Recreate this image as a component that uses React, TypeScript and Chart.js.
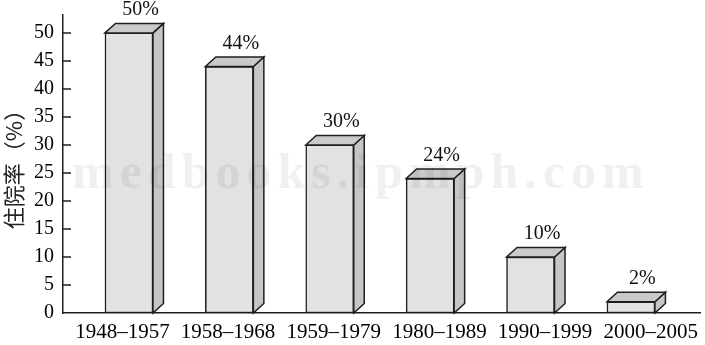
import React, { useEffect, useRef } from 'react';
import { Chart, registerables } from 'chart.js';

Chart.register(...registerables);

const categories = ['1948–1957', '1958–1968', '1959–1979', '1980–1989', '1990–1999', '2000–2005'];
const rates = [50, 44, 30, 24, 10, 2];
const valueLabels = ['50%', '44%', '30%', '24%', '10%', '2%'];
const yTicks = [0, 5, 10, 15, 20, 25, 30, 35, 40, 45, 50];
const yTitle = '住院率（%）';
const watermark = 'medbooks.ipmph.com';

const SERIF = '"Liberation Serif", "Times New Roman", serif';
const DX = 10.5;
const DY = 9.5;
const EDGE = '#1e1e1e';

const bar3d = {
  id: 'bar3d',
  afterDatasetsDraw(chart: any) {
    const ctx = chart.ctx;
    const meta = chart.getDatasetMeta(0);
    ctx.save();
    ctx.lineWidth = 1.5;
    ctx.strokeStyle = EDGE;
    ctx.lineJoin = 'miter';
    meta.data.forEach((el: any, i: number) => {
      const { x, y, base, width } = el.getProps(['x', 'y', 'base', 'width'], true);
      const l = x - width / 2;
      const r = x + width / 2;
      ctx.beginPath();
      ctx.moveTo(r, y);
      ctx.lineTo(r + DX, y - DY);
      ctx.lineTo(r + DX, base - DY);
      ctx.lineTo(r, base);
      ctx.closePath();
      ctx.fillStyle = '#c6c6c6';
      ctx.fill();
      ctx.stroke();
      ctx.beginPath();
      ctx.moveTo(l, y);
      ctx.lineTo(l + DX, y - DY);
      ctx.lineTo(r + DX, y - DY);
      ctx.lineTo(r, y);
      ctx.closePath();
      ctx.fillStyle = '#cacaca';
      ctx.fill();
      ctx.stroke();
      ctx.fillStyle = '#111';
      ctx.font = `20px ${SERIF}`;
      ctx.textAlign = 'center';
      ctx.textBaseline = 'alphabetic';
      ctx.fillText(valueLabels[i], x + DX + 1, y - DY - 8);
    });
    const ys = chart.scales.y;
    const left = chart.chartArea.left;
    ctx.beginPath();
    ys.ticks.forEach((t: any) => {
      if (t.value === 0) return;
      const py = ys.getPixelForValue(t.value);
      ctx.moveTo(left, py);
      ctx.lineTo(left + 8, py);
    });
    ctx.stroke();
    ctx.restore();
  },
  afterDraw(chart: any) {
    const ctx = chart.ctx;
    const a = chart.chartArea;
    ctx.save();
    ctx.font = `bold 50px ${SERIF}`;
    try { (ctx as any).letterSpacing = '6px'; } catch (e) {}
    ctx.fillStyle = 'rgba(0,0,0,0.06)';
    ctx.textAlign = 'left';
    ctx.textBaseline = 'alphabetic';
    ctx.fillText(watermark, a.left + 9, a.top + (a.bottom - a.top) * 0.58);
    ctx.restore();
  },
};

export default function App() {
  const ref = useRef<HTMLCanvasElement>(null);
  useEffect(() => {
    if (!ref.current) return;
    const chart = new Chart(ref.current, {
      type: 'bar',
      data: {
        datasets: [
          {
            data: rates.map((v, i) => ({ x: i, y: v })),
            backgroundColor: '#e2e2e2',
            borderColor: EDGE,
            borderWidth: 1.5,
            borderSkipped: false,
            barThickness: 48,
            xAxisID: 'x',
            yAxisID: 'y',
          } as any,
        ],
      },
      options: {
        animation: false,
        responsive: false,
        maintainAspectRatio: false,
        layout: { padding: { top: 15, right: 5, left: 0, bottom: 0 } },
        plugins: { legend: { display: false }, tooltip: { enabled: false } },
        scales: {
          x: { type: 'linear', display: false, offset: false, bounds: 'data', min: -0.657, max: 5.688 },
          xl: {
            type: 'linear',
            position: 'bottom',
            offset: false,
            bounds: 'data',
            min: -0.562,
            max: 5.466,
            afterBuildTicks: (s: any) => {
              s.ticks = categories.map((_, i) => ({ value: i }));
            },
            afterFit: (s: any) => {
              s.height = 32;
              s.paddingLeft = 0;
              s.paddingRight = 0;
            },
            grid: { display: false, drawTicks: false, offset: false },
            border: { display: true, color: EDGE, width: 1.5 },
            ticks: {
              callback: (v: any) => categories[v],
              font: { family: SERIF, size: 21 },
              color: '#000',
              padding: 7,
              maxRotation: 0,
              autoSkip: false,
            },
          },
          y: {
            min: 0,
            max: 53.2,
            afterBuildTicks: (s: any) => {
              s.ticks = yTicks.map((v) => ({ value: v }));
            },
            afterFit: (s: any) => {
              s.width = 63;
              s.paddingTop = 0;
              s.paddingBottom = 0;
            },
            grid: { display: false, drawTicks: false },
            border: { display: true, color: EDGE, width: 1.5 },
            ticks: { font: { family: SERIF, size: 20 }, color: '#000', padding: 9 },
            title: {
              display: true,
              text: yTitle,
              font: { family: '"Noto Sans CJK SC"', size: 22 },
              color: '#222',
              padding: { top: 0, bottom: 0 },
            },
          },
        } as any,
      },
      plugins: [bar3d],
    });
    return () => chart.destroy();
  }, []);
  return (
    <div style={{ position: 'fixed', left: 0, top: 0, width: 705, height: 345, background: '#fff' }}>
      <canvas ref={ref} width={705} height={345} style={{ display: 'block' }} />
    </div>
  );
}
